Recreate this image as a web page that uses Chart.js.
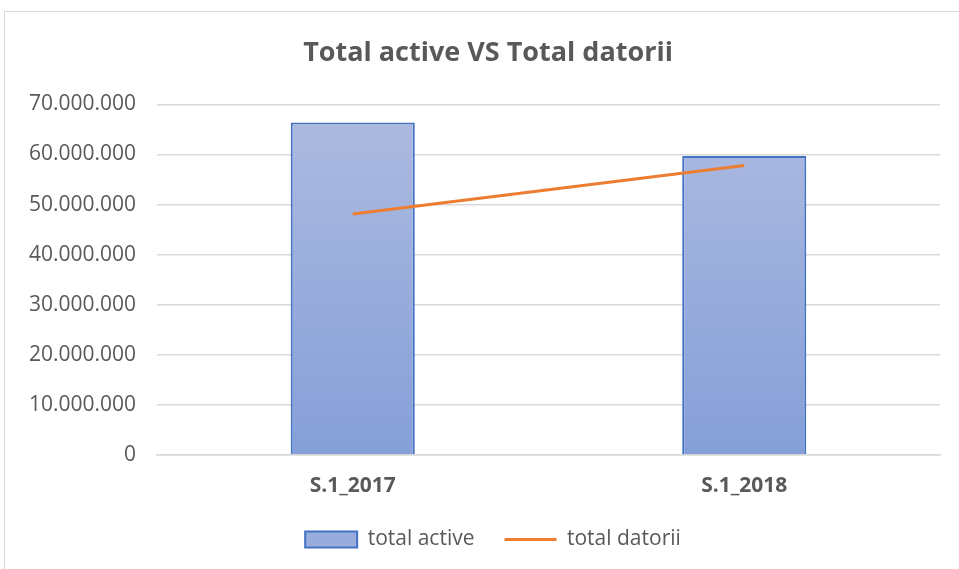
<!DOCTYPE html>
<html>
<head>
<meta charset="utf-8">
<script src="https://cdn.jsdelivr.net/npm/chart.js@4.4.0/dist/chart.umd.min.js"></script>
<style>
  html, body { margin: 0; padding: 0; background: #fff; }
  #wrap { position: relative; width: 959px; height: 569px; overflow: hidden; }
  #frame { position: absolute; left: 4px; top: 11px; width: 1000px; height: 600px; border: 1px solid #d9d9d9; }
  canvas { position: absolute; left: 0; top: 0; }
</style>
</head>
<body>
<div id="wrap">
  <div id="frame"></div>
  <canvas id="myChart" width="959" height="569"></canvas>
</div>
<script>
// date
const categories = ['S.1_2017', 'S.1_2018'];
const totalActive = [66400000, 59700000];
const totalDatorii = [48100000, 57800000];
const yTicks = [0, 10000000, 20000000, 30000000, 40000000, 50000000, 60000000, 70000000];

const gray = '#595959';
const fontFamily = "'Open Sans', 'Noto Sans', sans-serif";

function fmt(v) {
    return String(v).replace(/\B(?=(\d{3})+(?!\d))/g, '.');
}

function barGradient(context) {
    const chart = context.chart;
    const area = chart.chartArea;
    if (!area) return '#97ABDC';
    const g = chart.ctx.createLinearGradient(0, area.top, 0, area.bottom);
    g.addColorStop(0, '#AEBBE0');
    g.addColorStop(1, '#859FD8');
    return g;
}

// titlul si legenda sunt centrate pe tot graficul in original, nu pe latimea canvas-ului
const shiftPlugin = {
    id: 'shiftBlocks',
    afterLayout(chart) {
        chart.titleBlock.left += 18;
        chart.titleBlock.right += 18;
        chart.legend.left += 23;
        chart.legend.right += 23;
    }
};

function createChart() {
    const ctx = document.getElementById('myChart').getContext('2d');
    const myChart = new Chart(ctx, {
        data: {
            labels: categories,
            datasets: [{
                type: 'line',
                label: 'total datorii',
                data: totalDatorii,
                borderColor: '#ED7D31',
                backgroundColor: '#ED7D31',
                borderWidth: 3,
                pointRadius: 0,
                pointStyle: 'line',
                order: 0
            }, {
                type: 'bar',
                label: 'total active',
                data: totalActive,
                backgroundColor: barGradient,
                borderColor: '#4472C4',
                borderWidth: 2,
                categoryPercentage: 1,
                barPercentage: 0.317,
                pointStyle: 'rect',
                order: 1
            }]
        },
        plugins: [shiftPlugin],
        options: {
            responsive: false,
            animation: false,
            layout: { padding: { left: 0, right: 19, top: 0, bottom: 9 } },
            plugins: {
                title: {
                    display: true,
                    text: 'Total active VS Total datorii',
                    color: gray,
                    font: { family: fontFamily, size: 27, weight: 'bold' },
                    padding: { top: 37, bottom: 35 }
                },
                legend: {
                    position: 'bottom',
                    reverse: true,
                    labels: {
                        color: gray,
                        font: { family: fontFamily, size: 21 },
                        usePointStyle: true,
                        pointStyleWidth: 52,
                        boxHeight: 16,
                        padding: 30,
                        generateLabels: function (chart) {
                            const items = Chart.defaults.plugins.legend.labels.generateLabels(chart);
                            items.forEach(it => {
                                if (it.datasetIndex === 1) {
                                    it.fillStyle = '#98ACDD';
                                    it.strokeStyle = '#4472C4';
                                    it.lineWidth = 2;
                                }
                            });
                            return items;
                        }
                    }
                },
                tooltip: { enabled: false }
            },
            scales: {
                x: {
                    grid: { display: false, drawTicks: false },
                    border: { display: true, color: '#d9d9d9', width: 1.5 },
                    ticks: { color: gray, font: { family: fontFamily, size: 21, weight: 'bold' }, padding: 18 },
                    afterFit: function (scale) { scale.height = 44; }
                },
                y: {
                    min: 0,
                    max: 70000000,
                    afterBuildTicks: function (scale) { scale.ticks = yTicks.map(v => ({ value: v })); },
                    grid: { color: '#d9d9d9', lineWidth: 1.5, drawTicks: false },
                    border: { display: false },
                    ticks: {
                        color: gray,
                        font: { family: fontFamily, size: 21 },
                        padding: 21,
                        callback: function (v) { return fmt(v); }
                    },
                    afterFit: function (scale) { scale.width = 157; }
                }
            }
        }
    });
}

document.addEventListener('DOMContentLoaded', () => {
    createChart();
});
</script>
</body>
</html>
